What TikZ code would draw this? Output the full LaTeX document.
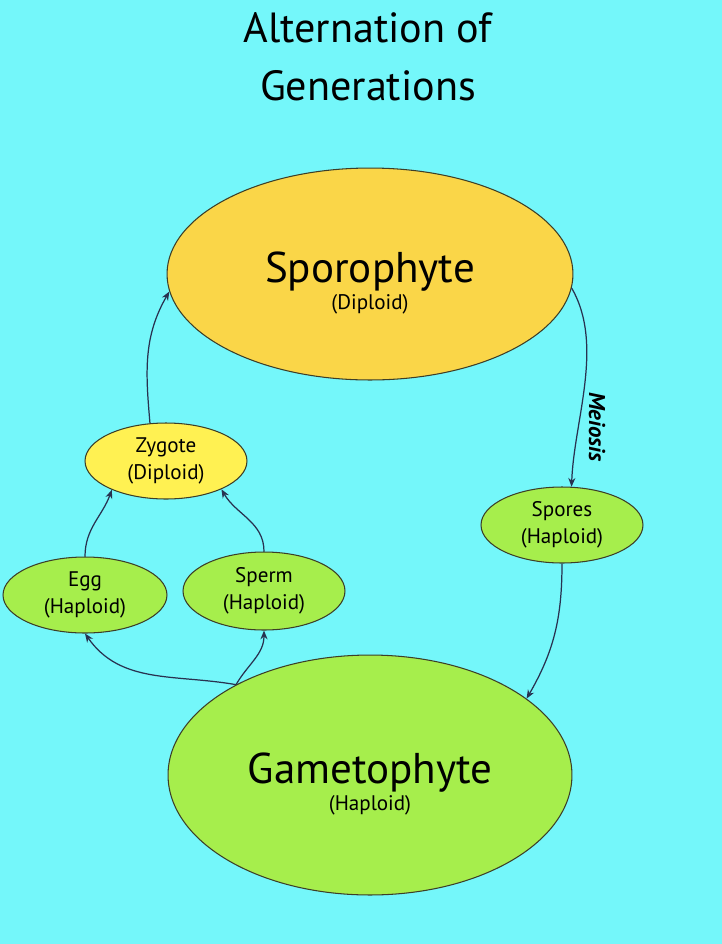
\documentclass[tikz,border=0pt]{standalone}
\usepackage{fontspec}
\setmainfont{PT Sans}
\usepackage{tikz}
\usetikzlibrary{shapes.geometric, arrows.meta, positioning}
\definecolor{bgcyan}{RGB}{116,247,250}
\definecolor{sporoyel}{RGB}{250,214,72}
\definecolor{zygyel}{RGB}{255,241,82}
\definecolor{gamgreen}{RGB}{166,238,76}
\definecolor{edgedark}{RGB}{60,62,40}
\definecolor{arrdark}{RGB}{40,50,80}
\tikzset{
  bigcell/.style={ellipse, draw=edgedark, line width=0.6pt, inner sep=0pt, align=center},
  smallcell/.style={ellipse, draw=edgedark, line width=0.6pt, inner sep=0pt,
    align=center, minimum width=3.24cm, minimum height=1.52cm,
    font=\fontsize{12}{15.5}\selectfont},
  arrow/.style={-{Stealth[length=5pt,width=4pt]}, line width=0.7pt, color=arrdark}
}
\newcommand{\bigname}[2]{\rule{0pt}{28pt}{\fontsize{24.5}{26}\selectfont #1}\\[1pt]{\fontsize{12}{14.5}\selectfont #2}}

\begin{document}
\begin{tikzpicture}[x=0.02cm, y=-0.02cm]
    % background
    \fill[bgcyan] (0,0) rectangle (722,944);
    \useasboundingbox (0,0) rectangle (722,944);

    % title
    \node[align=center, font=\fontsize{24}{33}\selectfont] (title) at (368,57)
        {Alternation of\\Generations};

    % generations
    \node[bigcell, fill=sporoyel, minimum width=8.12cm, minimum height=4.24cm] (sporo) at (370,274)
        {\bigname{Sporophyte}{(Diploid)}};
    \node[bigcell, fill=gamgreen, minimum width=8.08cm, minimum height=4.8cm] (gameto) at (370,775)
        {\bigname{Gametophyte}{(Haploid)}};

    % small cells
    \node[smallcell, fill=zygyel] (zyg) at (166,461) {Zygote\\(Diploid)};
    \node[smallcell, fill=gamgreen, minimum width=3.28cm] (egg) at (85,595) {Egg\\(Haploid)};
    \node[smallcell, fill=gamgreen, minimum height=1.56cm] (sperm) at (264,591) {Sperm\\(Haploid)};
    \node[smallcell, fill=gamgreen] (spores) at (562,525) {Spores\\(Haploid)};

    % cycle
    \draw[arrow] (zyg.113) to[out=95, in=240] (sporo.185);
    \draw[arrow] (sporo.356) to[out=-60, in=88, looseness=0.85] (spores.76);
    \draw[arrow] (spores.south) to[out=-90, in=60] (gameto.26);
    \draw[arrow] (gameto.146) to[out=170, in=-55] (egg.south);
    \draw[arrow] (gameto.146) to[out=60, in=-90] (sperm.south);
    \draw[arrow] (egg.north) to[out=90, in=250] (zyg.208);
    \draw[arrow] (sperm.north) to[out=90, in=-60] (zyg.333);

    \node[rotate=-90, font=\fontsize{13}{14}\selectfont\bfseries\itshape] (meio) at (597,427) {Meiosis};
\end{tikzpicture}
\end{document}
